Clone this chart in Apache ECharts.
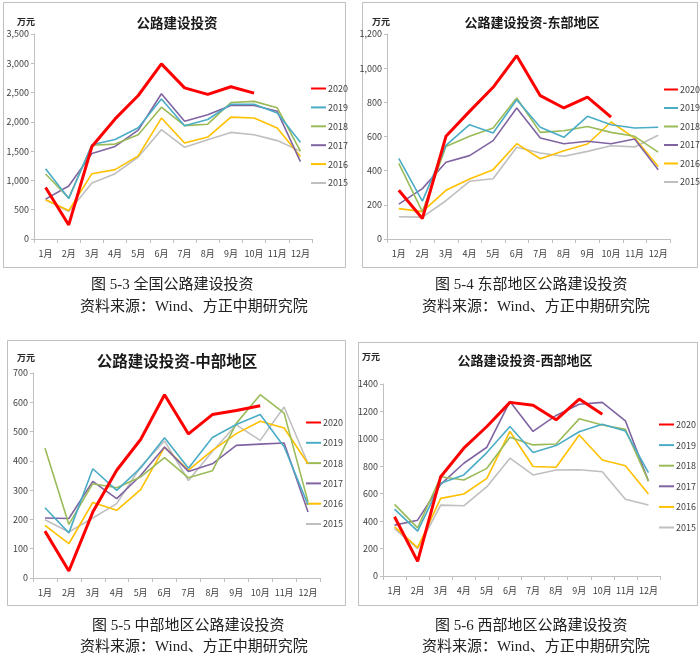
<!DOCTYPE html>
<html>
<head>
<meta charset="utf-8">
<script src="https://cdn.jsdelivr.net/npm/echarts@6/dist/echarts.min.js"></script>
<style>
html,body{margin:0;padding:0;background:#fff;}
#c{width:700px;height:660px;}
</style>
</head>
<body>
<div id="c"></div>
<script>
const months = ['1月','2月','3月','4月','5月','6月','7月','8月','9月','10月','11月','12月'];
const years = ['2020','2019','2018','2017','2016','2015'];

// 全国
const nat2020 = [880,240,1580,2050,2450,2990,2580,2470,2600,2490];
const nat2019 = [1200,690,1610,1700,1900,2390,1935,2040,2300,2300,2150,1650];
const nat2018 = [1110,700,1600,1620,1780,2250,1935,1960,2330,2350,2240,1500];
const nat2017 = [680,905,1460,1580,1860,2480,2010,2120,2280,2280,2180,1320];
const nat2016 = [670,485,1115,1185,1420,2065,1640,1740,2080,2065,1895,1410];
const nat2015 = [670,470,955,1115,1400,1866,1565,1696,1820,1780,1680,1500];
// 东部
const east2020 = [285,120,601,747,888,1073,839,767,831,714];
const east2019 = [472,222,548,669,620,815,654,595,718,669,650,654];
const east2018 = [443,160,542,601,650,825,624,634,659,624,601,509];
const east2017 = [204,295,449,488,576,767,591,558,572,558,585,406];
const east2016 = [178,160,285,351,406,558,470,517,556,685,591,425];
const east2015 = [130,128,224,338,353,537,503,484,513,546,539,607];
// 中部
const central2020 = [160,24,225,368,473,626,492,558,572,588];
const central2019 = [240,154,373,299,376,479,375,480,524,558,448,250];
const central2018 = [444,183,322,308,345,411,342,366,528,626,563,260];
const central2017 = [205,203,330,271,350,447,364,390,453,457,461,225];
const central2016 = [180,117,258,231,302,447,368,436,493,535,512,390];
const central2015 = [199,157,205,254,380,468,333,432,523,470,584,390];
// 西部
const west2020 = [432,107,724,932,1090,1266,1245,1139,1290,1179];
const west2019 = [488,327,676,737,900,1090,900,951,1052,1106,1057,753];
const west2018 = [522,351,724,700,785,1012,956,963,1146,1101,1069,692];
const west2017 = [371,407,668,822,939,1273,1054,1171,1252,1266,1132,692];
const west2016 = [359,207,566,598,712,1054,798,793,1028,846,804,598];
const west2015 = [346,200,517,512,651,859,737,773,775,760,559,518];

const titles = ['公路建设投资','公路建设投资-东部地区','公路建设投资-中部地区','公路建设投资-西部地区'];
const captions = ['图 5-3 全国公路建设投资','图 5-4 东部地区公路建设投资','图 5-5 中部地区公路建设投资','图 5-6 西部地区公路建设投资'];
const source = '资料来源：Wind、方正中期研究院';
const unit = '万元';

const panelData = [
  [nat2020,nat2019,nat2018,nat2017,nat2016,nat2015],
  [east2020,east2019,east2018,east2017,east2016,east2015],
  [central2020,central2019,central2018,central2017,central2016,central2015],
  [west2020,west2019,west2018,west2017,west2016,west2015]
];
const yMax = [3500,1200,700,1400];
const yStep = [500,200,100,200];
const useComma = [true,true,false,false];

// layout / style
const lineColors = ['#FF0000','#4BACC6','#9BBB59','#8064A2','#FFC000','#BFBFBF'];
const lineWidths = [3,1.6,1.6,1.6,1.6,1.6];
const grids = [
  {left:34, top:34, width:278, height:205},
  {left:387, top:34, width:283, height:205},
  {left:33, top:373, width:287, height:205},
  {left:383, top:384, width:277, height:192}
];
const legendPos = [
  {left:310, top:84, gap:9.9, w:15},
  {left:663, top:85, gap:9.5, w:14},
  {left:305, top:418, gap:11.3, w:15},
  {left:658, top:420, gap:11.6, w:15}
];
const titlePos = [
  {x:177, y:16, size:13.5},
  {x:532, y:16, size:13},
  {x:177, y:353, size:15.5},
  {x:525, y:354, size:13}
];
const unitPos = [[17,17],[372,17],[17,353],[362,352]];
const boxes = [[3,2,342,265],[362,2,335,265],[7,340,338,265],[358,342,339,263]];
const capPos = [[91,278,80,300],[435,278,422,300],[92,619,80,640],[435,619,422,640]];

const axisFont = "'Liberation Sans Narrow','Arial Narrow','Noto Sans CJK SC',sans-serif";
const cjkFont = "'Noto Sans CJK SC',sans-serif";
const capFont = "'Liberation Serif','Noto Sans CJK SC',serif";

function fmt(v, comma){
  return comma ? String(v).replace(/\B(?=(\d{3})+(?!\d))/g, ',') : String(v);
}

const option = {
  backgroundColor:'#fff',
  animation:false,
  title:[], grid:[], xAxis:[], yAxis:[], legend:[], series:[], graphic:[]
};

for (let p=0;p<4;p++){
  option.grid.push(grids[p]);
  option.title.push({
    text:titles[p], left:titlePos[p].x, top:titlePos[p].y, textAlign:'center', padding:0,
    textStyle:{fontFamily:cjkFont,fontSize:titlePos[p].size,fontWeight:'bold',color:'#1a1a1a'}
  });
  option.xAxis.push({
    type:'category', gridIndex:p, data:months, boundaryGap:true,
    axisLine:{show:true,lineStyle:{color:'#BFBFBF',width:1}},
    axisTick:{show:true,length:4,lineStyle:{color:'#BFBFBF'}},
    axisLabel:{fontFamily:axisFont,fontSize:9,color:'#404040',margin:10,interval:0},
    splitLine:{show:false}
  });
  const comma = useComma[p];
  option.yAxis.push({
    type:'value', gridIndex:p, min:0, max:yMax[p], interval:yStep[p],
    axisLine:{show:true,lineStyle:{color:'#BFBFBF',width:1}},
    axisTick:{show:true,length:3,lineStyle:{color:'#BFBFBF'}},
    axisLabel:{fontFamily:axisFont,fontSize:9,color:'#404040',margin:5,formatter:v=>fmt(v,comma)},
    splitLine:{show:false}
  });
  option.legend.push({
    orient:'vertical', left:legendPos[p].left, top:legendPos[p].top, padding:0,
    itemWidth:legendPos[p].w, itemHeight:10, itemGap:legendPos[p].gap,
    data:years, selectedMode:false,
    itemStyle:{opacity:0},
    textStyle:{fontFamily:axisFont,fontSize:9,color:'#404040',padding:[0,0,0,-3]}
  });
  for (let s=0;s<6;s++){
    option.series.push({
      type:'line', name:years[s], xAxisIndex:p, yAxisIndex:p,
      data:panelData[p][s], symbol:'none', smooth:false,
      lineStyle:{color:lineColors[s],width:lineWidths[s]},
      itemStyle:{color:lineColors[s]},
      z: 10 - s
    });
  }
  const b = boxes[p];
  option.graphic.push({
    type:'rect', shape:{x:b[0]+0.5,y:b[1]+0.5,width:b[2],height:b[3]},
    style:{fill:'none',stroke:'#BFBFBF',lineWidth:1}, silent:true, z:-1
  });
  option.graphic.push({
    type:'text', left:unitPos[p][0], top:unitPos[p][1],
    style:{text:unit,font:"bold 9px "+cjkFont,fill:'#262626'}
  });
  const c = capPos[p];
  option.graphic.push({
    type:'text', left:c[0], top:c[1],
    style:{text:captions[p],font:"15px "+capFont,fill:'#222'}
  });
  option.graphic.push({
    type:'text', left:c[2], top:c[3],
    style:{text:source,font:"15px "+capFont,fill:'#222'}
  });
}

const chart = echarts.init(document.getElementById('c'), null, {renderer:'canvas'});
chart.setOption(option);
</script>
</body>
</html>
